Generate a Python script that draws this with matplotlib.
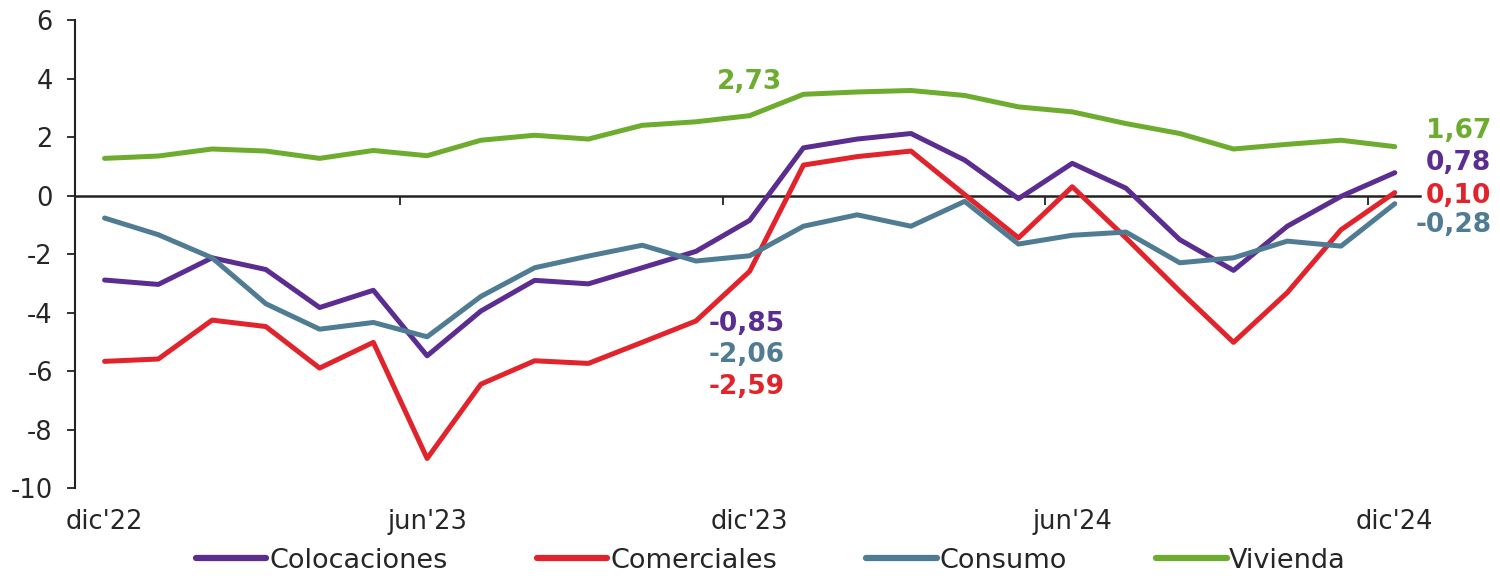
import matplotlib
matplotlib.use("Agg")
import matplotlib.pyplot as plt

plt.rcParams["font.family"] = ["DejaVu Sans"]
plt.rcParams["axes.unicode_minus"] = False

# ---- data -------------------------------------------------------------
months = ["dic'22", "ene'23", "feb'23", "mar'23", "abr'23", "may'23", "jun'23",
          "jul'23", "ago'23", "sep'23", "oct'23", "nov'23", "dic'23",
          "ene'24", "feb'24", "mar'24", "abr'24", "may'24", "jun'24",
          "jul'24", "ago'24", "sep'24", "oct'24", "nov'24", "dic'24"]
tick_labels = ["dic'22", "jun'23", "dic'23", "jun'24", "dic'24"]

colocaciones = [-2.89, -3.04, -2.13, -2.53, -3.83, -3.24, -5.48, -3.95, -2.90, -3.02,
                -2.47, -1.91, -0.85, 1.63, 1.93, 2.12, 1.21, -0.11, 1.10, 0.25,
                -1.51, -2.56, -1.05, -0.03, 0.78]
comerciales = [-5.67, -5.59, -4.26, -4.48, -5.90, -5.02, -8.99, -6.45, -5.65, -5.74,
               -5.02, -4.29, -2.59, 1.04, 1.33, 1.52, 0.03, -1.45, 0.30, -1.45,
               -3.27, -5.02, -3.32, -1.17, 0.10]
consumo = [-0.77, -1.34, -2.13, -3.70, -4.57, -4.34, -4.83, -3.45, -2.47, -2.07,
           -1.70, -2.24, -2.06, -1.05, -0.66, -1.05, -0.20, -1.66, -1.36, -1.25,
           -2.30, -2.13, -1.56, -1.73, -0.28]
vivienda = [1.27, 1.35, 1.59, 1.52, 1.27, 1.54, 1.36, 1.89, 2.06, 1.93,
            2.40, 2.52, 2.73, 3.46, 3.54, 3.59, 3.42, 3.03, 2.86, 2.46,
            2.12, 1.59, 1.75, 1.89, 1.67]

series_names = ["Colocaciones", "Comerciales", "Consumo", "Vivienda"]
colors = ["#5B2D90", "#E1242B", "#507C93", "#6EAC30"]

# ---- figure -------------------------------------------------------------
fig = plt.figure(figsize=(15, 5.8), dpi=100)
ax = fig.add_axes([0.05, 0.1586, 0.8967, 0.8069])

x = list(range(len(months)))
all_series = [colocaciones, comerciales, consumo, vivienda]
lines = []
for name, vals, col in zip(series_names, all_series, colors):
    ln, = ax.plot(x, vals, color=col, lw=3.6, solid_joinstyle="round",
                  solid_capstyle="round", label=name, zorder=3)
    lines.append(ln)

ax.set_xlim(-0.55, 24.47)
ax.set_ylim(-10, 6)

txt_col = "#262626"
for s in ["top", "right"]:
    ax.spines[s].set_visible(False)
ax.spines["left"].set_linewidth(1.5)
ax.spines["left"].set_color("#222222")
ax.spines["bottom"].set_position(("data", 0))
ax.spines["bottom"].set_linewidth(1.8)
ax.spines["bottom"].set_color("#222222")
ax.spines["bottom"].set_zorder(2)

# tick marks on the zero line at category boundaries (every 6 months)
ax.set_xticks([5.5, 11.5, 17.5, 23.5])
ax.tick_params(axis="x", direction="out", length=6.5, width=1.3,
               color="#222222", labelbottom=False)

yt = list(range(-10, 7, 2))
ax.set_yticks(yt)
ax.set_yticklabels([str(v) for v in yt])
ax.tick_params(axis="y", direction="out", length=6, width=1.3, color="#222222",
               pad=10, labelsize=18.5, labelcolor=txt_col)

# category labels at the bottom
sec = ax.secondary_xaxis("bottom")
sec.set_xticks([months.index(t) for t in tick_labels])
sec.set_xticklabels(tick_labels)
sec.tick_params(length=0, pad=15, labelsize=18.5, labelcolor=txt_col)
sec.spines["bottom"].set_visible(False)


def fmt(v):
    return f"{v:.2f}".replace(".", ",")


ann_fs = 19

# annotations at dic'23
i_mid = months.index("dic'23")
ax.annotate(fmt(vivienda[i_mid]), xy=(i_mid, vivienda[i_mid]), xytext=(0, 24.5),
            textcoords="offset points", ha="center", va="center",
            color=colors[3], fontsize=ann_fs, fontweight="bold")
mid_offsets = {0: -74.6, 2: -71.8, 1: -83.3}
for k, dy in mid_offsets.items():
    v = all_series[k][i_mid]
    ax.annotate(fmt(v), xy=(i_mid, v), xytext=(-2, dy), textcoords="offset points",
                ha="center", va="center", color=colors[k], fontsize=ann_fs,
                fontweight="bold")

# end labels at dic'24
i_end = len(months) - 1
end_offsets = [7.3, -2.1, -15.0, 11.0]
for k, dy in enumerate(end_offsets):
    v = all_series[k][i_end]
    ax.annotate(fmt(v), xy=(i_end, v), xytext=(69.5, dy), textcoords="offset points",
                ha="right", va="center", color=colors[k], fontsize=ann_fs,
                fontweight="bold", annotation_clip=False)

leg = fig.legend(lines, series_names, loc="center", bbox_to_anchor=(0.514, 0.033),
                 ncol=4, frameon=False, fontsize=19.5, handlelength=2.6,
                 handletextpad=0.1, columnspacing=3.3, borderpad=0)
for t in leg.get_texts():
    t.set_color(txt_col)
for h in leg.legend_handles:
    h.set_linewidth(4.5)

fig.savefig("out.png", dpi=100, facecolor="white")
